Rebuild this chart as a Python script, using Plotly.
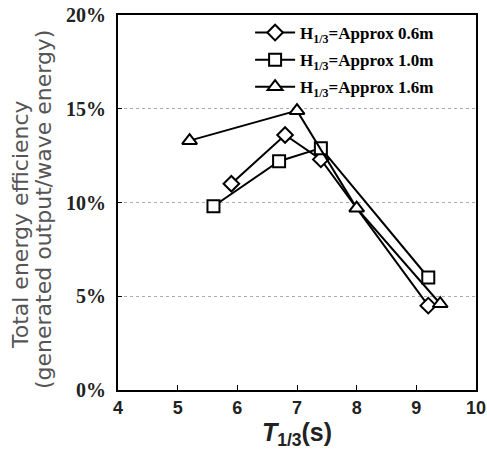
import plotly.graph_objects as go

# data
x_06 = [5.9, 6.8, 7.4, 9.2]
y_06 = [11.0, 13.6, 12.3, 4.5]
x_10 = [5.6, 6.7, 7.4, 9.2]
y_10 = [9.8, 12.2, 12.9, 6.0]
x_16 = [5.2, 7.0, 8.0, 9.4]
y_16 = [13.3, 14.9, 9.7, 4.6]
names = ["H<sub>1/3</sub>=Approx 0.6m", "H<sub>1/3</sub>=Approx 1.0m", "H<sub>1/3</sub>=Approx 1.6m"]
y_ticks = [0, 5, 10, 15, 20]
y_ticklabels = ["0%", "5%", "10%", "15%", "20%"]
x_ticks = [4, 5, 6, 7, 8, 9, 10]
y_title_lines = ["Total energy efficiency", "(generated output/wave energy)"]

fig = go.Figure()
series = [(x_06, y_06, "diamond", 12), (x_10, y_10, "square", 12), (x_16, y_16, "triangle-up", 13)]
for i, ((xs, ys, sym, sz), nm) in enumerate(zip(series, names)):
    fig.add_trace(go.Scatter(
        x=xs, y=ys, mode="lines+markers", name="<b>" + nm + "</b>", legendgroup=str(i),
        line=dict(color="black", width=2),
        marker=dict(symbol=sym, size=sz, color="white", line=dict(color="black", width=2)),
    ))

# y-axis title as two rotated lines
for xp, yp, txt in [(20, 225, y_title_lines[0]), (43, 210, y_title_lines[1])]:
    fig.add_annotation(
        text=txt, textangle=-90, showarrow=False,
        xref="paper", yref="paper",
        x=(xp - 118) / 358, y=(390 - yp) / 375, xanchor="center", yanchor="middle",
        font=dict(family="DejaVu Sans", size=22, color="#555"),
    )

fig.update_layout(
    width=487, height=464,
    margin=dict(l=118, r=11, t=15, b=74),
    paper_bgcolor="white", plot_bgcolor="white",
    showlegend=True,
    legend=dict(
        x=0.369, y=1.0, xanchor="left", yanchor="top",
        borderwidth=0, bgcolor="rgba(0,0,0,0)",
        font=dict(family="Liberation Serif", size=17, color="black"),
        tracegroupgap=2, itemwidth=40,
    ),
    xaxis=dict(
        range=[4, 10], tickvals=x_ticks, ticktext=["<b>%d</b>" % v for v in x_ticks], automargin=False,
        ticks="inside", ticklen=5, tickcolor="black",
        showline=True, linecolor="black", linewidth=2, mirror=True,
        showgrid=False, zeroline=False,
        tickfont=dict(family="Liberation Sans", size=18, color="#222"),
        title=dict(text="<b><i>T</i><sub>1/3</sub>(s)</b>", font=dict(family="Liberation Sans", size=25, color="#222"), standoff=2),
    ),
    yaxis=dict(
        range=[0, 20], tickvals=y_ticks, ticktext=["<b>%s</b>" % t for t in y_ticklabels], automargin=False,
        ticks="inside", ticklen=4, tickcolor="black", ticklabelstandoff=6,
        showline=True, linecolor="black", linewidth=2, mirror=True,
        showgrid=True, gridcolor="#aaa", griddash="dot", gridwidth=1, zeroline=False,
        tickfont=dict(family="Liberation Serif", size=20, color="#222"),
    ),
)
fig.write_html("out.html", config={"displayModeBar": False},
               post_script="document.body.style.margin='0';document.body.style.overflow='hidden';")
